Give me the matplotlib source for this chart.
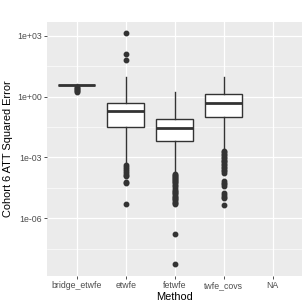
import numpy as np
import matplotlib
matplotlib.use("Agg")
import matplotlib.pyplot as plt

# categories on the x axis (NA has no data)
methods = ["bridge_etwfe", "etwfe", "fetwfe", "twfe_covs", "NA"]

q1 = [3.76, 0.0331, 0.0063, 0.0955]
med = [3.89, 0.204, 0.0275, 0.468]
q3 = [3.98, 0.501, 0.0759, 1.35]
whislo = [3.63, 5.6e-4, 1.66e-4, 2.4e-3]
whishi = [4.12, 9.8, 1.78, 9.1]

fliers_bridge = [3.09, 2.75, 2.40, 2.14, 1.86, 1.66]
fliers_etwfe = [1350, 126, 67.6, 4.2e-4, 3.5e-4, 2.8e-4, 2.2e-4, 1.8e-4,
                1.4e-4, 1.2e-4, 6.0e-5, 5.2e-5, 5.1e-6]
fliers_fetwfe = [1.48e-4, 1.32e-4, 1.17e-4, 1.05e-4, 9.3e-5, 8.3e-5, 7.4e-5,
                 6.6e-5, 5.9e-5, 5.2e-5, 4.6e-5, 4.0e-5, 3.0e-5, 2.6e-5,
                 2.3e-5, 2.0e-5, 1.74e-5, 1.51e-5, 1.32e-5, 1.15e-5, 1.0e-5,
                 8.7e-6, 7.6e-6, 6.6e-6, 5.8e-6, 5.1e-6, 1.7e-7, 5.4e-9]
fliers_twfe = [2.1e-3, 1.78e-3, 1.51e-3, 1.29e-3, 1.10e-3, 9.3e-4, 7.9e-4,
               6.8e-4, 5.8e-4, 4.9e-4, 4.2e-4, 3.5e-4, 3.0e-4, 2.5e-4,
               2.1e-4, 1.74e-4, 6.9e-5, 5.8e-5, 4.8e-5, 4.0e-5, 1.7e-5,
               1.41e-5, 1.17e-5, 9.8e-6, 4.7e-6]
fliers = [fliers_bridge, fliers_etwfe, fliers_fetwfe, fliers_twfe]

ytick_vals = [1e3, 1e0, 1e-3, 1e-6]
ytick_labels = ["1e+03", "1e+00", "1e-03", "1e-06"]
minor_vals = [10**1.5, 10**-1.5, 10**-4.5, 10**-7.5]

plt.rcParams["font.family"] = ["Liberation Sans", "DejaVu Sans"]

fig = plt.figure(figsize=(3.07, 3.07), dpi=100)
ax = fig.add_axes([0.154, 0.101, 0.83, 0.827])
ax.set_facecolor("#EBEBEB")
ax.set_yscale("log")

stats = []
for i in range(4):
    stats.append(dict(q1=q1[i], med=med[i], q3=q3[i], whislo=whislo[i],
                      whishi=whishi[i], fliers=fliers[i]))

ax.bxp(stats, positions=[1, 2, 3, 4], widths=0.75, patch_artist=True,
       showcaps=False,
       boxprops=dict(facecolor="white", edgecolor="#333333", linewidth=1.0),
       medianprops=dict(color="#333333", linewidth=2.0),
       whiskerprops=dict(color="#333333", linewidth=1.0),
       flierprops=dict(marker="o", markersize=3.2, markerfacecolor="#333333",
                       markeredgecolor="#333333", linestyle="none"),
       zorder=3)

ax.set_xlim(0.4, 5.6)
ax.set_ylim(10**-8.85, 10**3.68)

# grid
for v in minor_vals:
    ax.axhline(v, color="white", lw=0.45, zorder=0)
for v in ytick_vals:
    ax.axhline(v, color="white", lw=0.9, zorder=0)
for x in range(1, 6):
    ax.axvline(x, color="white", lw=0.9, zorder=0)

ax.set_xticks(range(1, 6))
ax.set_xticklabels(methods)
ax.set_yticks(ytick_vals)
ax.set_yticklabels(ytick_labels)
ax.yaxis.set_minor_locator(matplotlib.ticker.NullLocator())
ax.tick_params(axis="both", labelsize=6.3, labelcolor="#4D4D4D",
               color="#333333", length=2.2, width=0.6, pad=1.5)

for s in ax.spines.values():
    s.set_visible(False)

ax.set_xlabel("Method", fontsize=7.9, labelpad=1.5)
ax.set_ylabel("Cohort 6 ATT Squared Error", fontsize=7.9, labelpad=3)

fig.savefig("out.png", dpi=100)
